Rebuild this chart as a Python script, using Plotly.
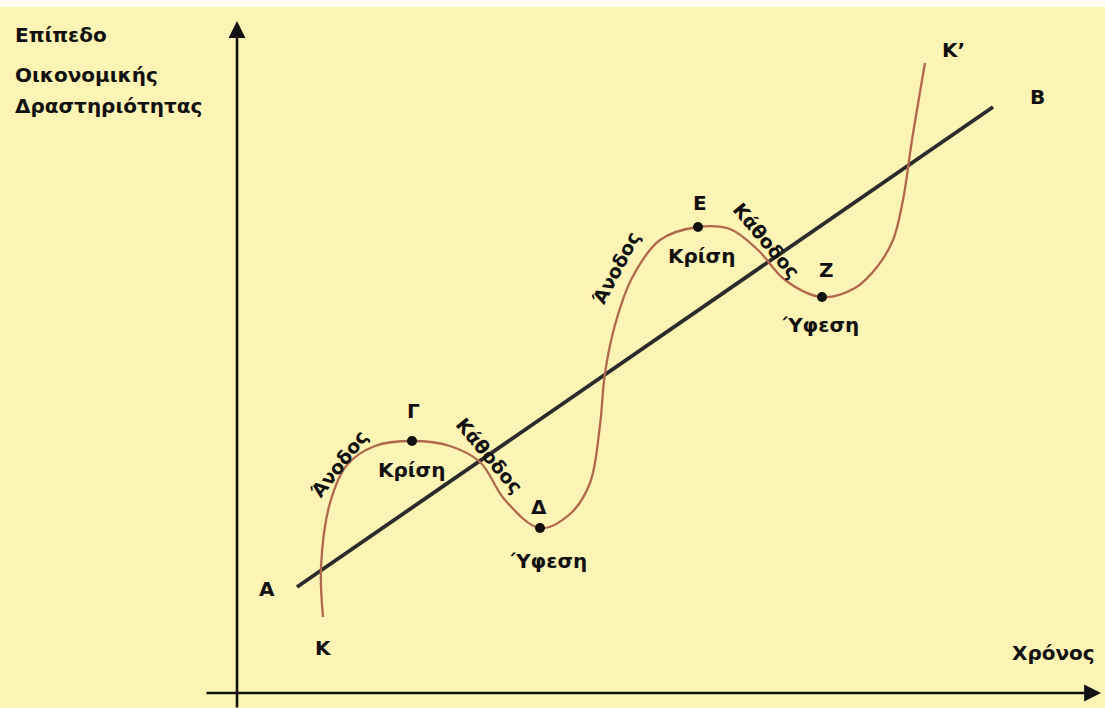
import plotly.graph_objects as go

# ---- data (time units on x, activity level on y; origin at the axes crossing) ----
cycle_t = [8.6, 8.4, 9.3, 11.0, 13.8, 17.5, 21.3, 24.3, 26.8, 30.3, 33.3, 35.3, 36.3, 36.8, 37.8,
           39.5, 42.3, 46.1, 49.3, 52.1, 54.8, 58.5, 61.8, 64.0, 65.6, 66.6, 67.5, 68.8]
cycle_level = [7.6, 12.6, 19.0, 22.8, 24.7, 25.2, 24.7, 23.1, 19.3, 16.5, 17.9, 21.0, 26.8, 32.0, 36.8,
               41.5, 45.3, 46.6, 46.4, 44.3, 41.3, 39.6, 40.5, 42.6, 45.3, 49.3, 55.3, 63.0]

trend_t = [6.0, 75.6]
trend_level = [10.6, 58.6]

point_names = ["Γ", "Δ", "Ε", "Ζ"]
point_t = [17.5, 30.3, 46.1, 58.5]
point_level = [25.2, 16.5, 46.6, 39.6]

BG = "#FCF4B4"
CURVE = "#B0674E"
INK = "#111111"
FONT = "DejaVu Sans"

fig = go.Figure()

fig.add_trace(go.Scatter(x=trend_t, y=trend_level, mode="lines",
                         line=dict(color="#2B2B2B", width=3.8), hoverinfo="skip"))
fig.add_trace(go.Scatter(x=cycle_t, y=cycle_level, mode="lines",
                         line=dict(color=CURVE, width=2.3, shape="spline", smoothing=1.0),
                         hoverinfo="skip"))
fig.add_trace(go.Scatter(x=point_t, y=point_level, mode="markers", text=point_names,
                         marker=dict(color=INK, size=10), hoverinfo="skip"))

# axes with arrowheads
fig.add_annotation(x=0, y=67.2, ax=0, ay=-1.6, xref="x", yref="y", axref="x", ayref="y",
                   text="", showarrow=True, arrowhead=2, arrowsize=1.3, arrowwidth=2.6,
                   arrowcolor=INK)
fig.add_annotation(x=86.4, y=0, ax=-3.2, ay=0, xref="x", yref="y", axref="x", ayref="y",
                   text="", showarrow=True, arrowhead=2, arrowsize=1.3, arrowwidth=2.6,
                   arrowcolor=INK)

def label(txt, x, y, size=20, angle=0, xanchor="center"):
    fig.add_annotation(x=x, y=y, xref="x", yref="y", text="<b>" + txt + "</b>",
                       showarrow=False, textangle=angle, xanchor=xanchor, yanchor="middle",
                       font=dict(family=FONT, size=size, color=INK))

# y-axis title
label("Επίπεδο", -22.4, 65.8, xanchor="left")
label("Οικονομικής", -22.4, 61.8, xanchor="left")
label("Δραστηριότητας", -22.4, 58.7, xanchor="left")
label("Χρόνος", 81.6, 4.0)

# point letters
label("Α", 3.0, 10.4)
label("Κ", 8.6, 4.5)
label("Γ", 17.6, 28.2)
label("Δ", 30.2, 18.6)
label("Ε", 46.3, 49.0)
label("Ζ", 58.9, 42.3)
label("Κ’", 71.6, 64.3)
label("Β", 80.0, 59.6)

# phase labels
label("Άνοδος", 10.2, 22.9, size=19, angle=-52)
label("Κρίση", 17.4, 22.3)
label("Κάθοδος", 25.2, 23.8, size=19, angle=50)
label("Ύφεση", 31.1, 13.2)
label("Άνοδος", 37.9, 42.5, size=19, angle=-62)
label("Κρίση", 46.4, 43.7)
label("Κάθοδος", 52.9, 45.3, size=19, angle=50)
label("Ύφεση", 58.3, 36.8)

# thin white strip at top of the scan
fig.add_shape(type="rect", xref="paper", yref="paper", x0=0, x1=1, y0=1 - 7 / 708, y1=1,
              fillcolor="#FFFDF2", line=dict(width=0), layer="below")

fig.update_layout(
    width=1105, height=708,
    margin=dict(l=0, r=0, t=0, b=0),
    paper_bgcolor=BG, plot_bgcolor=BG,
    showlegend=False,
    xaxis=dict(range=[-23.7, 86.8], visible=False, fixedrange=True),
    yaxis=dict(range=[-1.5, 69.3], visible=False, fixedrange=True),
)

fig.write_html("out.html", config={"displayModeBar": False, "staticPlot": True},
               post_script="document.body.style.margin='0px';document.body.style.overflow='hidden';")
